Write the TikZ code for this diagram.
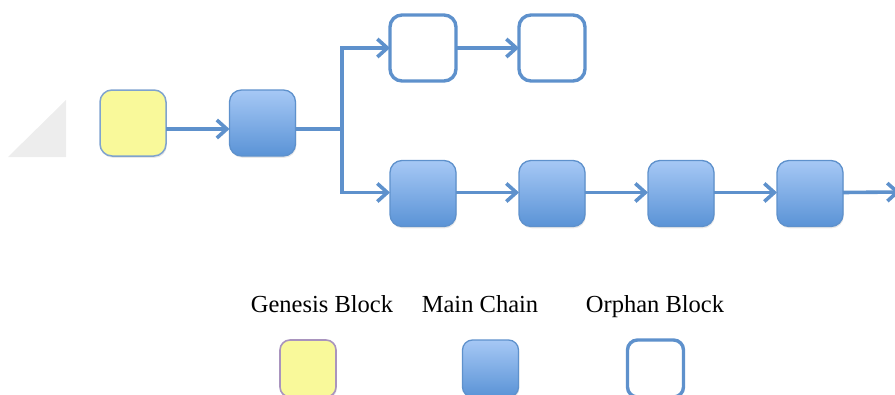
\documentclass[tikz,border=0pt]{standalone}
\usepackage{fontspec}
\setmainfont{Liberation Serif}
\usetikzlibrary{arrows.meta,shadows}
\definecolor{edgeblue}{HTML}{5E91CC}
\definecolor{chaintop}{HTML}{A6C8F5}
\definecolor{chainbot}{HTML}{5A93D6}
\definecolor{genfill}{HTML}{F9F99A}
\definecolor{genedge}{HTML}{7FA3CF}
\definecolor{legedge}{HTML}{A994BE}
\definecolor{wedge}{HTML}{EDEDED}
\begin{document}
\begin{tikzpicture}[x=1pt,y=-1pt,
  block/.style={rounded corners=12pt, minimum width=66pt, minimum height=66pt,
    inner sep=0pt, outer sep=0pt},
  soft/.style={drop shadow={opacity=0.18, shadow xshift=0.8pt, shadow yshift=-1.8pt}},
  chain/.style={block, soft, draw=edgeblue, line width=1.3pt,
    top color=chaintop, bottom color=chainbot},
  genesis/.style={block, soft, draw=genedge, line width=1.5pt, fill=genfill},
  orphan/.style={block, draw=edgeblue, line width=3.4pt, fill=white},
  legendbox/.style={minimum width=56pt, minimum height=57pt, rounded corners=10pt},
  link/.style={draw=edgeblue, line width=3.6pt},
  arr/.style={link, -{Straight Barb[length=10pt, width=18pt]}},
  caption/.style={font=\fontsize{24.5}{28}\selectfont, inner sep=0pt, anchor=base}
]
\useasboundingbox (0,0) rectangle (895,394);

% faint grey wedge at the left
\fill[wedge] (8,157) -- (66,100) -- (66,157) -- cycle;

% blocks
\node[genesis] (g)  at (133,123) {};
\node[chain]   (b2) at (262.5,123) {};
\node[orphan]  (o1) at (423,48) {};
\node[orphan]  (o2) at (552,48) {};
\node[chain]   (m1) at (423,193.5) {};
\node[chain]   (m2) at (552,193.5) {};
\node[chain]   (m3) at (681,193.5) {};
\node[chain]   (m4) at (810,193.5) {};

% branching point and open end of the chain
\coordinate (br)  at (342,129);
\coordinate (end) at (900,192);

% connectors
\draw[arr] ([yshift=-6pt]g.east) -- ([yshift=-6pt]b2.west);
\draw[link, line width=4.2pt] ([yshift=-6pt]b2.east) -- (br);
\draw[arr] (br) |- (o1.west);
\draw[arr] (br) |- ([yshift=1pt]m1.west);
\draw[arr] (o1.east) -- (o2.west);
\draw[arr] ([yshift=1pt]m1.east) -- ([yshift=1pt]m2.west);
\draw[arr] ([yshift=1pt]m2.east) -- ([yshift=1pt]m3.west);
\draw[arr] ([yshift=1pt]m3.east) -- ([yshift=1pt]m4.west);
\draw[arr] ([yshift=1pt]m4.east) -- (end);

% legend
\node[caption] (lg) at (322,312) {Genesis Block};
\node[caption] (lm) at (480,312) {Main Chain};
\node[caption] (lo) at (655,312) {Orphan Block};

\node[genesis, legendbox, draw=legedge, line width=1.6pt] (kg) at (308,368.5) {};
\node[chain, legendbox] (km) at (490.5,368.5) {};
\node[orphan, legendbox] (ko) at (655.5,368.5) {};
\end{tikzpicture}
\end{document}
